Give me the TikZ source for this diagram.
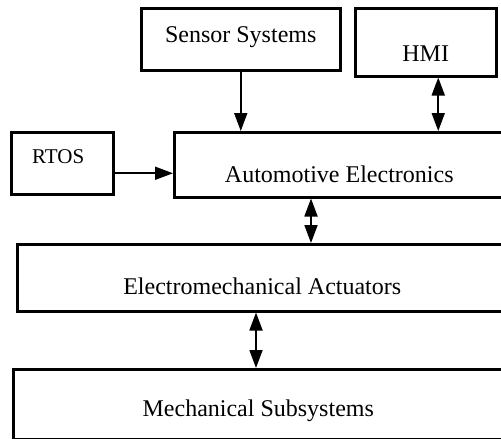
\documentclass[tikz,border=0pt]{standalone}
\usepackage{fontspec}
\setmainfont{Liberation Serif}
\usetikzlibrary{arrows.meta}
\begin{document}
\begin{tikzpicture}[x=1pt,y=-1pt,
  box/.style={draw,line width=2.5pt,inner sep=0pt,anchor=north west,font=\fontsize{24}{28}\selectfont},
  conn/.style={line width=1.8pt,-{Triangle[length=18pt,width=13pt]}},
  bconn/.style={line width=1.8pt,{Triangle[length=18pt,width=13pt]}-{Triangle[length=18pt,width=13pt]}}]
\useasboundingbox (0,0) rectangle (501,439);
\clip (0,0) rectangle (501,439);
\fill[white] (0,0) rectangle (501,439);

\node[box,minimum width=199pt,minimum height=62pt,
  label={[yshift=2pt,font=\fontsize{24}{28}\selectfont]center:Sensor Systems}] (sensor) at (140,7) {};
\node[box,minimum width=141pt,minimum height=68pt,
  label={[yshift=-11pt,font=\fontsize{24}{28}\selectfont]center:HMI}] (hmi) at (354,7) {};
\node[box,minimum width=102pt,minimum height=62pt,
  label={[xshift=-4pt,yshift=7pt,font=\fontsize{21}{25}\selectfont]center:RTOS}] (rtos) at (10,131) {};
\node[box,minimum width=340pt,minimum height=65pt,
  label={[xshift=-5pt,yshift=-9.5pt,font=\fontsize{24}{28}\selectfont]center:Automotive Electronics}] (auto) at (173,131) {};
\node[box,minimum width=500pt,minimum height=67pt,
  label={[xshift=-5pt,yshift=-8.5pt,font=\fontsize{24}{28}\selectfont]center:Electromechanical Actuators}] (elec) at (16,243) {};
\node[box,minimum width=500pt,minimum height=70pt,
  label={[xshift=-5pt,yshift=-7pt,font=\fontsize{24}{28}\selectfont]center:Mechanical Subsystems}] (mech) at (12,368) {};

\draw[conn] (sensor.south) -- (sensor.south |- auto.north);
\draw[bconn] ([xshift=12.5pt]hmi.south) -- ([xshift=12.5pt]hmi.south |- auto.north);
\draw[conn] ([yshift=-10pt]rtos.east) -- ([yshift=-10pt]rtos.east -| auto.west);
\draw[bconn] ([xshift=138pt]auto.south west) -- ([xshift=138pt]auto.south west |- elec.north);
\draw[bconn] ([xshift=240pt]elec.south west) -- ([xshift=240pt]elec.south west |- mech.north);
\end{tikzpicture}
\end{document}
